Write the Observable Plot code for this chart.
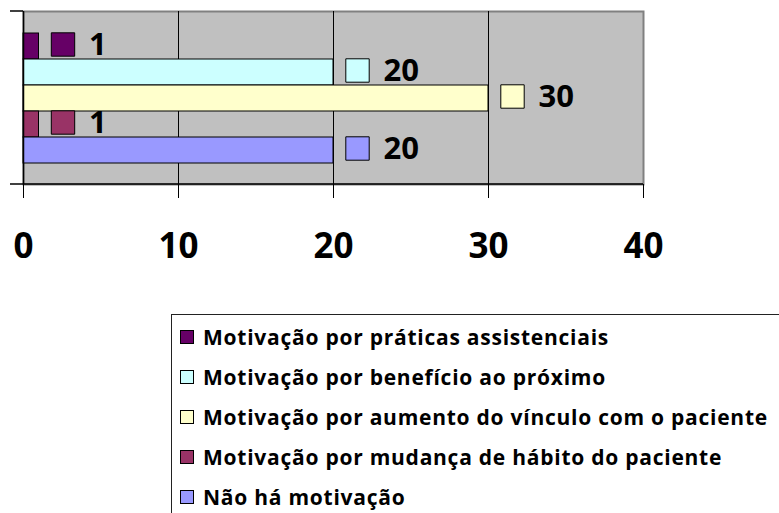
<!DOCTYPE html>
<html>
<head>
<meta charset="utf-8">
<script src="https://cdn.jsdelivr.net/npm/d3@7"></script>
<script src="https://cdn.jsdelivr.net/npm/@observablehq/plot@0.6"></script>
<style>
  html, body { margin: 0; padding: 0; background: #fff; overflow: hidden; }
  #wrap { position: absolute; left: 0; top: 0; width: 779px; height: 513px; overflow: hidden; }
  #chart { position: absolute; left: 0; top: 0; }
  #legend {
    position: absolute; left: 171px; top: 314px; width: 620px; height: 220px;
    border-left: 1.5px solid #222; border-top: 1.5px solid #222;
    font-family: "Open Sans", sans-serif; font-weight: bold; font-size: 21px; letter-spacing: 0.75px; color: #000;
  }
  .item { position: absolute; left: 8px; height: 24px; display: flex; align-items: center; white-space: nowrap; }
  .sw { width: 14px; height: 14px; border: 1px solid #000; margin-right: 9px; box-sizing: border-box; flex: none; }
</style>
</head>
<body>
<div id="wrap">
<div id="chart"></div>
<div id="legend"></div>
</div>
<script>
const series = [
  "Motivação por práticas assistenciais",
  "Motivação por benefício ao próximo",
  "Motivação por aumento do vínculo com o paciente",
  "Motivação por mudança de hábito do paciente",
  "Não há motivação"
];
const values = [1, 20, 30, 1, 20];
const colors = ["#660066", "#CCFFFF", "#FFFFCC", "#993366", "#9999FF"];
const xTicks = [0, 10, 20, 30, 40];

const data = series.map((s, i) => ({series: s, value: values[i]}));
const FONT = "'Open Sans', sans-serif";

const W = 779, H = 300, mt = 11, mb = 116, ml = 23, mr = 136;

const chart = Plot.plot({
  width: W, height: H,
  marginTop: mt, marginBottom: mb, marginLeft: ml, marginRight: mr,
  style: {fontFamily: FONT, background: "transparent", overflow: "visible"},
  x: {domain: [0, 40], label: null},
  y: {domain: series, paddingInner: 0, paddingOuter: 0.73, axis: null, label: null},
  color: {domain: series, range: colors},
  marks: [
    Plot.frame({fill: "#c0c0c0", stroke: "#808080", strokeWidth: 2}),
    Plot.ruleX([10, 20, 30], {stroke: "#000", strokeWidth: 1}),
    Plot.barX(data, {x: "value", y: "series", fill: "series", stroke: "#000", strokeWidth: 1}),
    Plot.dot(data, {x: "value", y: "series", symbol: "square", r: 13.2, fill: "series", stroke: "#000", strokeWidth: 1, dx: 24, dy: -2}),
    Plot.text(data, {x: "value", y: "series", text: d => String(d.value), dx: 50, dy: -1, textAnchor: "start",
      fontSize: 31, fontWeight: "bold", fill: "#000"}),
    Plot.ruleX([0], {stroke: "#000", strokeWidth: 1.5}),
    Plot.axisX({ticks: xTicks, tickSize: 14, tickPadding: 35, fontSize: 35, fontWeight: "bold", label: null, tickFormat: d => String(d)})
  ]
});
document.getElementById("chart").appendChild(chart);

// axis line decorations (category axis tick marks and bottom axis line), positioned from the scale
const xs = chart.scale("x");
const x0 = xs.apply(0), x40 = xs.apply(40);
const svg = d3.select(chart);
const g = svg.append("g").attr("stroke", "#000").attr("stroke-width", 1.5);
g.append("line").attr("x1", x0 - 13).attr("x2", x40).attr("y1", H - mb).attr("y2", H - mb);
g.append("line").attr("x1", x0 - 13).attr("x2", x0).attr("y1", mt).attr("y2", mt);

// legend
const leg = d3.select("#legend");
series.forEach((s, i) => {
  const it = leg.append("div").attr("class", "item").style("top", (10 + i * 40) + "px");
  it.append("div").attr("class", "sw").style("background", colors[i]);
  it.append("span").text(s);
});
</script>
</body>
</html>
